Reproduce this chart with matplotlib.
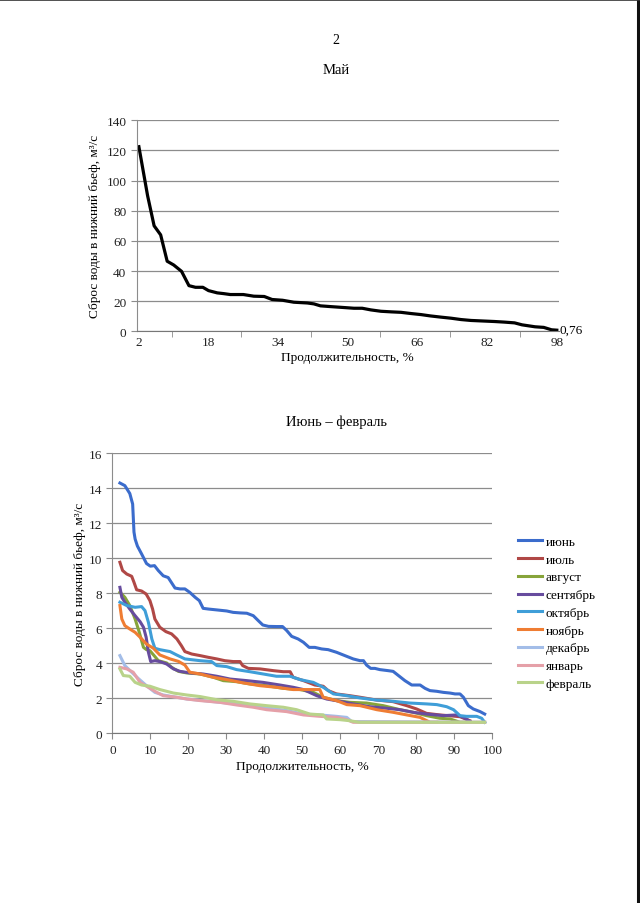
import matplotlib
matplotlib.use("Agg")
import matplotlib.pyplot as plt
from matplotlib.lines import Line2D

plt.rcParams['font.family'] = ['Liberation Serif', 'DejaVu Serif']

# --- Май: обеспеченность сброса (x - продолжительность, %) ---
may_x = [2, 4, 5.5, 7, 8.5, 10, 11.8, 13.5, 15, 16.7, 18, 20, 21.5, 23, 26, 28.4,
         30.8, 32.6, 35, 37.6, 40.7, 42.2, 43.7, 46, 49, 51.4, 53.3, 55.3, 57.6,
         60, 62.2, 64.5, 66.8, 69, 71.4, 73.7, 76, 78.3, 80.6, 83.7, 86, 88.3,
         90, 93, 95, 96.8, 98]
may_q = [122.5, 90, 70, 64, 46.5, 44, 39.8, 30.3, 29.2, 29.2, 27, 25.5, 25, 24.4,
         24.4, 23.3, 23.1, 21.1, 20.6, 19.3, 18.8, 18.2, 16.9, 16.4, 15.8, 15.3,
         15.3, 14.2, 13.3, 12.9, 12.6, 11.8, 11.1, 10.2, 9.4, 8.7, 7.8, 7.2, 6.9,
         6.5, 6.1, 5.6, 4.3, 3.0, 2.6, 1.0, 0.76]
may_xticks = [2, 18, 34, 50, 66, 82, 98]

# --- Июнь - февраль ---
months = ['июнь', 'июль', 'август', 'сентябрь', 'октябрь', 'ноябрь',
          'декабрь', 'январь', 'февраль']
colors = ['#3b6ccc', '#b04846', '#87a43a', '#674c9e', '#3f9ed8', '#ef7d33',
          '#a3bde8', '#e5a0a8', '#b9d38a']

jun_x = [2, 3.3, 4.6, 5.35, 5.7, 6, 6.6, 7.7, 9, 10, 11.1, 12.1, 13.4, 14.7, 15.6,
         16.5, 17.8, 19.1, 20.4, 21.8, 22.9, 23.9, 25.3, 27.5, 30.1, 31.8, 33.6,
         35.4, 37.1, 38.4, 39.6, 41.1, 43.2, 44.8, 45.9, 47.2, 48.9, 50.3, 51.8,
         53.3, 55.1, 56.8, 59, 61.2, 63.4, 65.2, 66.1, 66.9, 68, 69.1, 70.4, 72.6,
         73.9, 75.3, 77, 78.8, 81, 82.3, 83.6, 85.4, 87.1, 88.9, 90.2, 91.5, 92.4,
         93.7, 95, 96.8, 98]
jun_q = [14.3, 14.15, 13.7, 13.1, 11.5, 11.1, 10.7, 10.25, 9.7, 9.55, 9.58, 9.3, 9.0,
         8.9, 8.6, 8.3, 8.25, 8.25, 8.05, 7.77, 7.58, 7.14, 7.1, 7.05, 6.99, 6.91,
         6.88, 6.86, 6.72, 6.44, 6.19, 6.11, 6.1, 6.1, 5.87, 5.54, 5.39, 5.2, 4.91,
         4.91, 4.82, 4.78, 4.63, 4.44, 4.25, 4.15, 4.15, 3.9, 3.71, 3.71, 3.64, 3.58,
         3.54, 3.3, 3.01, 2.76, 2.76, 2.57, 2.44, 2.4, 2.34, 2.3, 2.25, 2.25, 2.06,
         1.58, 1.39, 1.24, 1.1]

jul_x = [2, 2.7, 3.8, 5.1, 5.7, 6.4, 7.7, 8.9, 9.9, 10.6, 11.2, 12.5, 14.1, 15.6, 17,
         18.2, 19.1, 20.9, 23.1, 25.3, 27.5, 29.6, 31.8, 33.6, 34.3, 35.8, 38.9,
         42.4, 45, 46.8, 47.6, 50.3, 53.3, 55.5, 56.8, 59, 62.5, 65.2, 69.6, 73.9,
         77.5, 80.1, 82.7, 86.2, 88.9, 91.5, 94.1]
jul_q = [9.77, 9.3, 9.1, 8.97, 8.63, 8.2, 8.13, 7.96, 7.58, 7.1, 6.53, 6.06, 5.81, 5.68,
         5.39, 5.0, 4.67, 4.53, 4.44, 4.34, 4.25, 4.15, 4.1, 4.1, 3.87, 3.71, 3.68,
         3.58, 3.52, 3.52, 3.2, 3.01, 2.76, 2.69, 2.44, 2.25, 2.15, 2.06, 1.9, 1.81,
         1.58, 1.39, 1.14, 1.05, 1.0, 0.95, 0.72]

aug_x = [2, 3.3, 4.6, 6, 7.1, 8.2, 9, 9.9, 11, 12.1, 14.3, 15.6, 17.4, 19.6, 23.1,
         26.6, 29.2, 32.7, 36.2, 40.6, 45, 49.4, 52.9, 55.5, 59, 62.5, 66.9, 71.3,
         75.7, 79.2, 82.7, 86.2, 88.9, 91.5, 94.1]
aug_q = [8.06, 7.77, 7.3, 6.53, 5.77, 4.91, 4.78, 4.72, 4.44, 4.15, 4.02, 3.77, 3.54,
         3.45, 3.39, 3.2, 3.01, 2.95, 2.82, 2.72, 2.57, 2.5, 2.34, 2.06, 1.87, 1.77,
         1.73, 1.58, 1.35, 1.2, 1.01, 0.86, 0.82, 0.63, 0.63]

sep_x = [2, 2.5, 3.3, 4.6, 6, 7.3, 8.2, 8.9, 9.5, 10.1, 11.2, 12.5, 14.3, 16.1, 17.8,
         20.4, 23.9, 27.5, 31, 35.4, 39.7, 44.1, 47.6, 50.3, 53.8, 56.4, 59.9, 63.4,
         67.8, 72.2, 75.7, 79.2, 82.7, 87.1, 90.6, 92.4, 94.1]
sep_q = [8.34, 7.77, 7.49, 7.1, 6.72, 6.38, 6.06, 5.49, 4.63, 4.1, 4.15, 4.1, 3.96,
         3.68, 3.54, 3.45, 3.39, 3.26, 3.1, 3.01, 2.91, 2.76, 2.63, 2.5, 2.15, 1.96,
         1.83, 1.68, 1.52, 1.43, 1.35, 1.2, 1.1, 1.01, 1.05, 0.91, 0.69]

oct_x = [2, 3.8, 6, 7.7, 8.6, 9.5, 10.4, 11.2, 12.5, 15.2, 16.9, 19.1, 23.1, 26.1,
         27.5, 30.1, 32.7, 36.2, 39.7, 43.2, 46.8, 49.4, 52.9, 55.5, 58.2, 61.7,
         65.2, 69.6, 73.9, 78.3, 82.7, 85.4, 88, 89.8, 91.5, 93.2, 95.9, 97.2, 98]
oct_q = [7.49, 7.3, 7.2, 7.24, 7.01, 6.34, 5.39, 4.86, 4.78, 4.67, 4.48, 4.25, 4.15,
         4.1, 3.87, 3.81, 3.64, 3.52, 3.39, 3.26, 3.26, 3.07, 2.91, 2.63, 2.25, 2.15,
         2.02, 1.9, 1.83, 1.73, 1.68, 1.64, 1.52, 1.35, 1.01, 0.97, 0.97, 0.86, 0.63]

nov_x = [2, 2.5, 3.3, 4.6, 6, 7.3, 9, 10.8, 12.5, 15.2, 17.4, 19.1, 20.4, 23.1, 26.6,
         30.1, 34.5, 38.9, 43.2, 47.6, 51.1, 54.6, 55.5, 59, 61.7, 65.2, 69.6, 73.9,
         77.5, 81, 83.6, 85.4]
nov_q = [7.3, 6.53, 6.15, 5.96, 5.77, 5.49, 5.1, 4.86, 4.48, 4.25, 4.11, 3.9, 3.49,
         3.39, 3.2, 3.07, 2.88, 2.72, 2.63, 2.5, 2.5, 2.5, 2.06, 1.87, 1.64, 1.58,
         1.35, 1.2, 1.05, 0.91, 0.63, 0.63]

dec_x = [2, 3.3, 5.1, 6.8, 9, 11.2, 13.4, 16.9, 19.6, 23.9, 28.3, 32.7, 37.1, 41.5,
         45.9, 50.3, 54.6, 59, 61.7, 63, 98]
dec_q = [4.44, 3.87, 3.49, 3.14, 2.72, 2.34, 2.19, 2.06, 1.96, 1.87, 1.77, 1.68, 1.58,
         1.43, 1.3, 1.1, 1.05, 0.97, 0.91, 0.67, 0.63]

jan_x = [2, 3.8, 5.5, 7.3, 9.5, 11.7, 13.4, 16.9, 19.6, 23.1, 28.3, 32.7, 37.1, 40.6,
         45.9, 50.3, 54.6, 59, 61.7, 63.4, 98]
jan_q = [3.77, 3.68, 3.49, 2.91, 2.63, 2.34, 2.15, 2.06, 1.96, 1.87, 1.77, 1.62, 1.49,
         1.35, 1.24, 1.05, 0.97, 0.91, 0.78, 0.63, 0.63]

feb_x = [2, 2.9, 4.6, 6, 7.7, 9.9, 12.5, 16.1, 19.6, 23.1, 27.5, 31.8, 36.2, 40.6,
         45, 48.5, 52, 55.5, 56.4, 59.9, 62.5, 65, 98]
feb_q = [3.68, 3.3, 3.26, 2.91, 2.76, 2.69, 2.5, 2.3, 2.19, 2.1, 1.92, 1.83, 1.68, 1.58,
         1.49, 1.35, 1.1, 1.05, 0.82, 0.78, 0.72, 0.63, 0.63]

series_x = [jun_x, jul_x, aug_x, sep_x, oct_x, nov_x, dec_x, jan_x, feb_x]
series_q = [jun_q, jul_q, aug_q, sep_q, oct_q, nov_q, dec_q, jan_q, feb_q]

ylab = 'Сброс воды в нижний бьеф, м³/с'
grid_c = '#8c8c8c'

fig = plt.figure(figsize=(6.4, 9.04), dpi=100)
fig.text(0.525, 0.955, '2', ha='center', va='center', fontsize=10)
fig.text(0.525, 0.922, 'Май', ha='center', va='center', fontsize=10.5)
fig.text(0.525, 0.533, 'Июнь – февраль', ha='center', va='center', fontsize=10.5)

# right / top scan border
fig.add_artist(Line2D([0.9965, 0.9965], [0, 1], color='#111111', lw=2.2))
fig.add_artist(Line2D([0.0, 1.0], [0.999, 0.999], color='#333333', lw=1.2))


def style_axes(ax):
    for s in ['top', 'right']:
        ax.spines[s].set_visible(False)
    ax.spines['left'].set_color(grid_c)
    ax.spines['bottom'].set_color('#777777')
    ax.yaxis.grid(True, color=grid_c, lw=0.9)
    ax.set_axisbelow(True)
    ax.tick_params(labelsize=9.5, colors='#222222', length=4, width=0.8)
    ax.tick_params(axis='both', color=grid_c)


# top chart
ax1 = fig.add_axes([0.2136, 0.6324, 0.8734 - 0.2136, 0.8658 - 0.6324])
ax1.plot(may_x, may_q, color='black', lw=2.3, solid_joinstyle='round')
ax1.set_xlim(1.5, 98.5)
ax1.set_ylim(0, 140)
ax1.set_yticks(range(0, 141, 20))
ax1.set_xticks(may_xticks)
ax1.set_xticks([9.5, 25.5, 41.5, 57.5, 73.5, 89.5], minor=True)
style_axes(ax1)
ax1.tick_params(axis='x', which='major', length=0)
ax1.tick_params(axis='x', which='minor', length=4, color=grid_c)
ax1.annotate('0,76', (may_x[-1], may_q[-1]), xytext=(2, 0), textcoords='offset points',
             ha='left', va='center', fontsize=9.5)
ax1.set_xlabel('Продолжительность, %', fontsize=9.5, labelpad=2)
ax1.set_ylabel(ylab, fontsize=9.5, labelpad=4)

# bottom chart
ax2 = fig.add_axes([0.1755, 0.1877, 0.7692 - 0.1755, 0.4975 - 0.1877])
for name, c, xs, qs in zip(months, colors, series_x, series_q):
    ax2.plot(xs, qs, color=c, lw=2.2, label=name, solid_joinstyle='round')
ax2.set_xlim(0, 100)
ax2.set_ylim(0, 16)
ax2.set_xticks(range(0, 101, 10))
ax2.set_yticks(range(0, 17, 2))
style_axes(ax2)
ax2.set_xlabel('Продолжительность, %', fontsize=9.5, labelpad=3)
ax2.set_ylabel(ylab, fontsize=9.5, labelpad=2)
ax2.legend(loc='upper left', bbox_to_anchor=(1.055, 0.725), frameon=False, fontsize=9.5,
           handlelength=1.8, handletextpad=0.25, labelspacing=0.42, borderaxespad=0)

fig.savefig('out.png', dpi=100, facecolor='white')
